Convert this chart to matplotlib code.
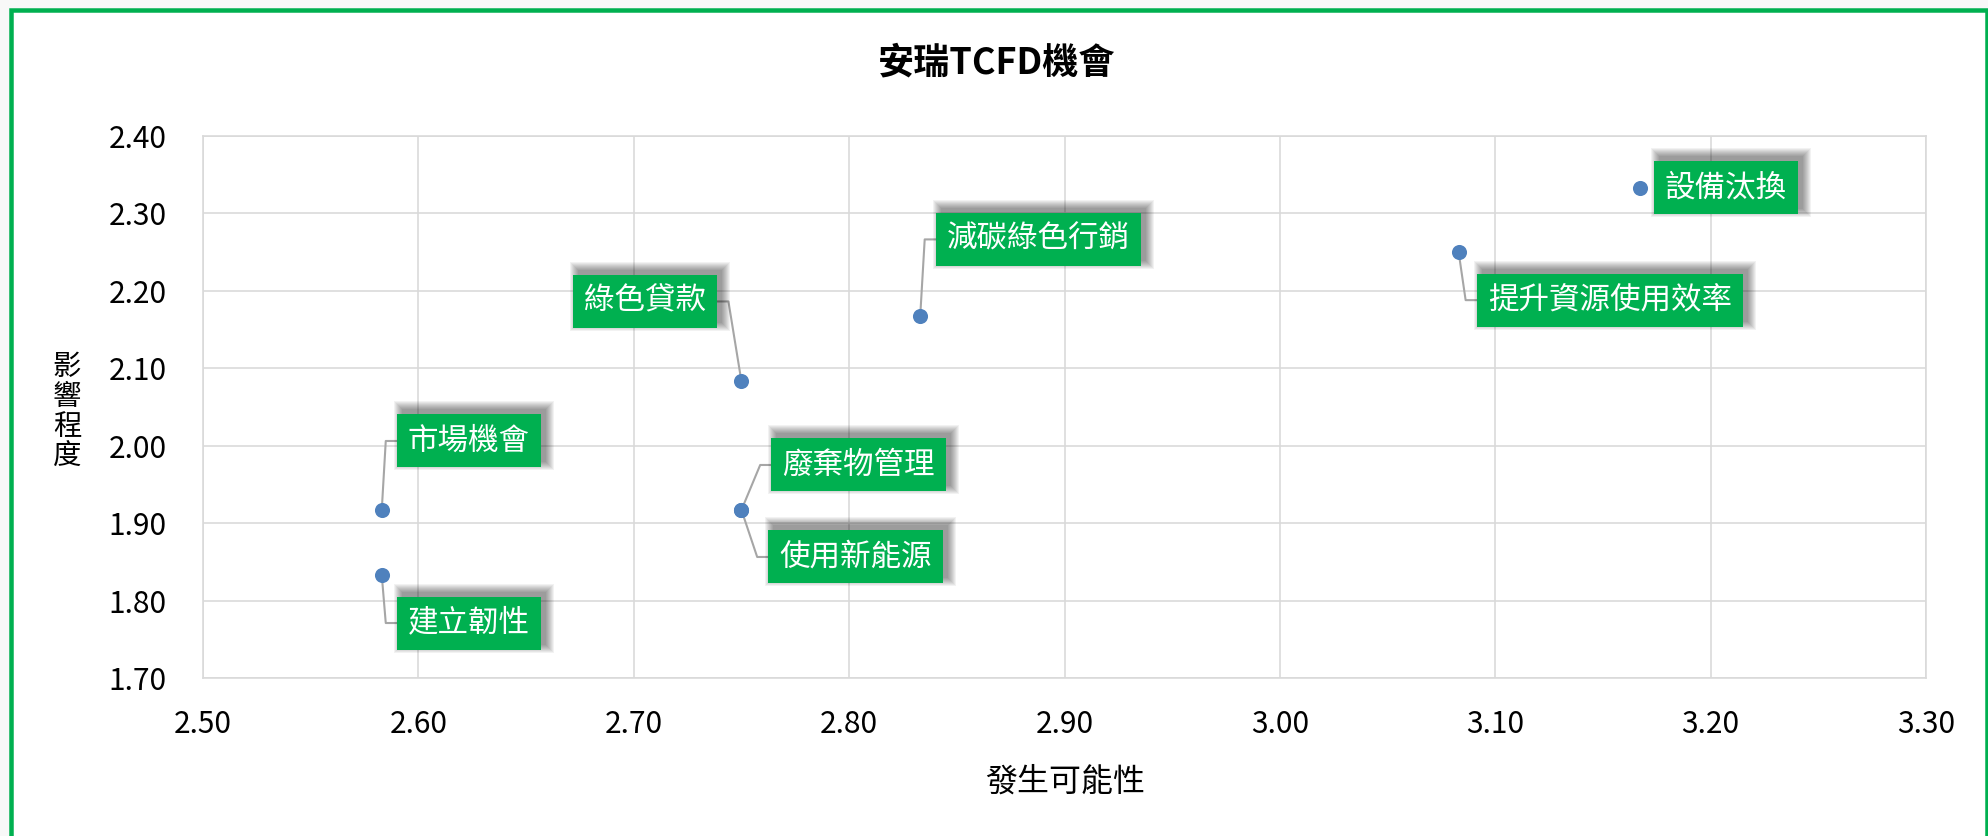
import matplotlib
matplotlib.use("Agg")
import matplotlib.pyplot as plt
from matplotlib.patches import Rectangle
from matplotlib.transforms import offset_copy

plt.rcParams['font.family'] = ['Noto Sans CJK TC', 'DejaVu Sans']

# ---- data ----
labels = ['市場機會', '建立韌性', '綠色貸款', '廢棄物管理', '使用新能源',
          '減碳綠色行銷', '提升資源使用效率', '設備汰換']
likelihood = [2.583, 2.583, 2.750, 2.750, 2.750, 2.833, 3.083, 3.167]
impact = [1.917, 1.833, 2.083, 1.917, 1.917, 2.167, 2.250, 2.333]
x_ticks = [2.50, 2.60, 2.70, 2.80, 2.90, 3.00, 3.10, 3.20, 3.30]
y_ticks = [1.70, 1.80, 1.90, 2.00, 2.10, 2.20, 2.30, 2.40]

# label box centre offsets from point (pixels, y up) -- layout only
offsets = [(87, 69), (87, -48), (-96, 80), (117, 45), (114, -47),
           (118, 77), (151, -48), (86, 0)]
has_leader = [True, True, True, True, True, True, True, False]

W, H = 1988, 836
DPI = 100
fig = plt.figure(figsize=(W / DPI, H / DPI), dpi=DPI)
fig.patch.set_facecolor('#F8F8F8')
# white card with green border
fig.add_artist(Rectangle((10.5 / W, -0.05), (1986.5 - 10.5) / W, 1 + 0.05 - 9.5 / H,
                         transform=fig.transFigure, facecolor='white',
                         edgecolor='#00B050', linewidth=4.5 * 72 / DPI, zorder=0))

ax = fig.add_axes([203 / W, 1 - 678 / H, (1926 - 203) / W, (678 - 136) / H])
ax.set_facecolor('white')
ax.set_xlim(2.5, 3.3)
ax.set_ylim(1.7, 2.4)
ax.set_xticks(x_ticks)
ax.set_yticks(y_ticks)
ax.set_xticklabels([f'{v:.2f}' for v in x_ticks])
ax.set_yticklabels([f'{v:.2f}' for v in y_ticks])
ax.tick_params(length=0, labelsize=21.5, colors='#000000')
ax.tick_params(axis='x', pad=22)
ax.tick_params(axis='y', pad=26)
ax.grid(True, color='#D9D9D9', linewidth=1.6 * 72 / DPI)
ax.set_axisbelow(True)
for s in ax.spines.values():
    s.set_color('#D9D9D9')
    s.set_linewidth(1.6 * 72 / DPI)

ax.scatter(likelihood, impact, s=118, color='#4F81BD', zorder=5, linewidths=0)

fig.canvas.draw()
renderer = fig.canvas.get_renderer()
inv = ax.transData.inverted()
fs = 22
pad_pt = 0.36
for lab, x, y, (dx, dy), lead in zip(labels, likelihood, impact, offsets, has_leader):
    tr = offset_copy(ax.transData, fig=fig, x=dx, y=dy, units='dots')
    t = ax.text(x, y, lab, transform=tr, fontsize=fs, color='white',
                ha='center', va='center', zorder=8,
                bbox=dict(boxstyle=f'square,pad={pad_pt}', facecolor='#00B050',
                          edgecolor='none'))
    fig.canvas.draw()
    bb = t.get_bbox_patch().get_window_extent(renderer)
    # soft shadow (offset up-right, blurred)
    for i in range(8, -1, -1):
        sx0, sy0 = bb.x0 + 5 - i, bb.y0 + 5 - i
        sx1, sy1 = bb.x1 + 5 + i, bb.y1 + 5 + i
        (d0x, d0y), (d1x, d1y) = inv.transform([(sx0, sy0), (sx1, sy1)])
        ax.add_patch(Rectangle((d0x, d0y), d1x - d0x, d1y - d0y, facecolor='#000000',
                               edgecolor='none', alpha=0.05, zorder=7, clip_on=False))
    # leader line
    if lead:
        px, py = ax.transData.transform((x, y))
        cy = (bb.y0 + bb.y1) / 2
        if dx > 0:
            edge = bb.x0
            elbow = edge - 11
        else:
            edge = bb.x1
            elbow = edge + 11
        pts = inv.transform([(px, py), (elbow, cy), (edge, cy)])
        ax.plot(pts[:, 0], pts[:, 1], color='#A6A6A6', linewidth=1.5, zorder=4,
                clip_on=False)

fig.text(997 / W, 1 - 63 / H, '安瑞TCFD機會', fontsize=26, fontweight='bold',
         ha='center', va='center')
fig.text(1065 / W, 1 - 782 / H, '發生可能性', fontsize=23, ha='center', va='center')
fig.text(67 / W, 1 - 412 / H, '影\n響\n程\n度', fontsize=20.5, ha='center', va='center',
         linespacing=1.0)

fig.savefig('out.png', dpi=DPI, facecolor=fig.get_facecolor())
